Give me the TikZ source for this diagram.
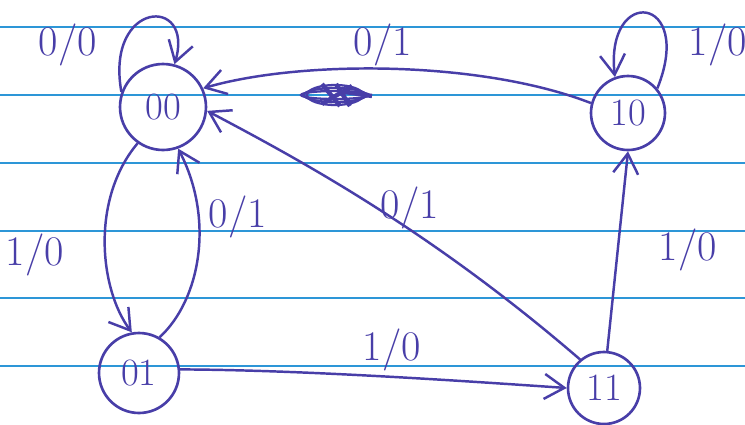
\documentclass[tikz,border=0pt]{standalone}
\usepackage{tikz}
\usetikzlibrary{arrows.meta}
\definecolor{ink}{RGB}{72,62,168}
\definecolor{paperline}{RGB}{45,150,215}
\tikzset{
  state/.style={draw=ink, circle, line width=1.5pt, text=ink, inner sep=0pt,
    font=\fontsize{22}{24}\selectfont},
  lbl/.style={text=ink, font=\fontsize{24}{26}\selectfont},
  edge/.style={draw=ink, line width=1.4pt, -{Straight Barb[length=4mm,width=5mm]}}
}
\begin{document}
\begin{tikzpicture}[x=0.02cm, y=-0.02cm]
    \useasboundingbox[fill=white] (0,0) rectangle (745,424);
    % ruled paper
    \foreach \y in {27,95,163,231,298,366}
        \draw[paperline, line width=1.1pt] (0,\y) -- (745,\y);
    % states
    \node[state, minimum size=1.72cm] (s00) at (163,107) {00};
    \node[state, minimum size=1.48cm] (s10) at (628,113) {10};
    \node[state, minimum size=1.6cm]  (s01) at (139,373) {01};
    \node[state, minimum size=1.44cm] (s11) at (604,388) {11};
    % transitions
    \draw[edge] (s00.160) .. controls (105,0) and (195,-5) .. (s00.75);
    \draw[edge] (s10.40) .. controls (695,-5) and (605,-15) .. (s10.110);
    \draw[edge] (s10.165) .. controls (480,60) and (300,60) .. (s00.25);
    \draw[edge] (s11.130) .. controls (430,230) and (300,160) .. (s00.-5);
    \draw[edge] (s00.235) .. controls (90,200) and (100,290) .. (s01.100);
    \draw[edge] (s01.60) .. controls (200,300) and (215,220) .. (s00.290);
    \draw[edge] (s01.5) .. controls (300,370) and (450,380) .. (s11.180);
    \draw[edge] (s11.85) -- (s10.270);
    % labels
    \node[lbl] (l1) at (68,45) {0/0};
    \node[lbl] (l2) at (383,45) {0/1};
    \node[lbl] (l3) at (718,45) {1/0};
    \node[lbl] (l4) at (35,255) {1/0};
    \node[lbl] (l5) at (238,217) {0/1};
    \node[lbl] (l6) at (410,208) {0/1};
    \node[lbl] (l7) at (688,250) {1/0};
    \node[lbl] (l8) at (392,350) {1/0};
    % crossed out scribble
    \coordinate (scr) at (335,95);
    \foreach \r in {10,7,4}
        \draw[ink, line width=1.3pt] (scr) ellipse ({38-\r} and \r);
    \draw[ink, line width=2.5pt] (322,84) -- (340,106) (336,84) -- (350,106)
        (352,86) -- (322,104) (345,92) -- (372,96);
\end{tikzpicture}
\end{document}
